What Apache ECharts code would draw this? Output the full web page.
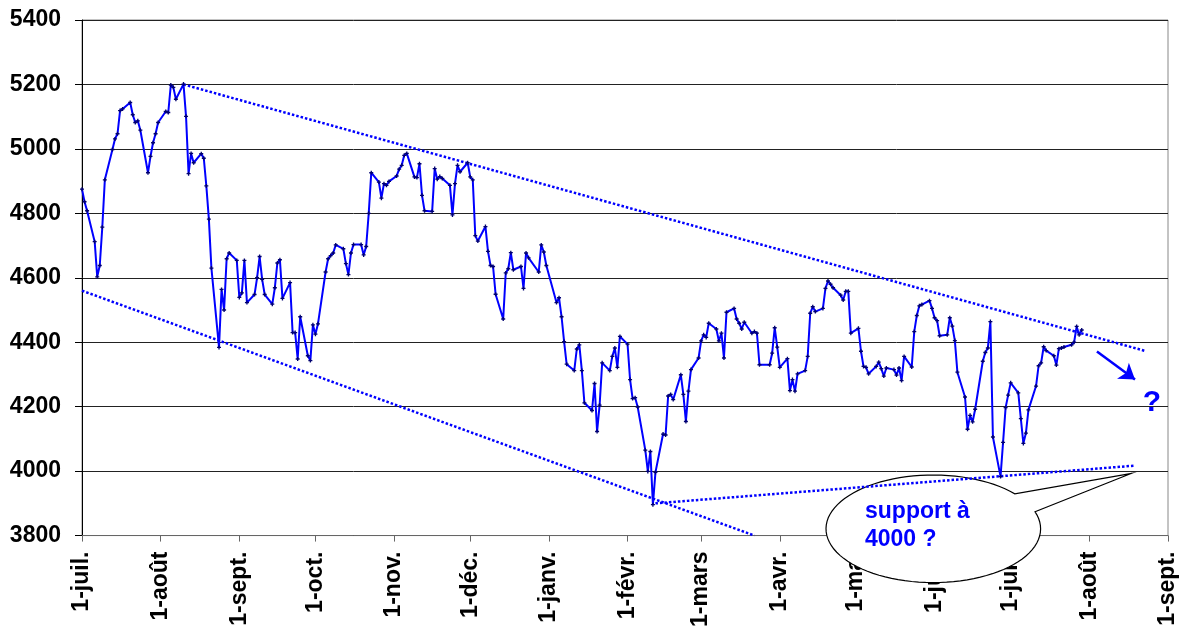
<!DOCTYPE html>
<html>
<head>
<meta charset="utf-8">
<script src="https://cdn.jsdelivr.net/npm/echarts@6/dist/echarts.min.js"></script>
<style>
  html, body { margin: 0; padding: 0; background: #fff; }
  #chart { width: 1184px; height: 630px; }
</style>
</head>
<body>
<div id="chart"></div>
<script>
// axis runs day by day from 1 July 2015 to 1 Sept 2016
const firstDay = '2015-07-01'
const lastDay = '2016-09-01'
const moisFr = ['janv.', 'févr.', 'mars', 'avr.', 'mai', 'juin', 'juil.', 'août', 'sept.', 'oct.', 'nov.', 'déc.']
const yTicks = {min: 3800, max: 5400, step: 200}

// trading days and closing values
const tradeDates = [
    '2015-07-01', '2015-07-02', '2015-07-03', '2015-07-06', '2015-07-07', '2015-07-08', '2015-07-09', '2015-07-10',
    '2015-07-13', '2015-07-14', '2015-07-15', '2015-07-16', '2015-07-17', '2015-07-20', '2015-07-21', '2015-07-22',
    '2015-07-23', '2015-07-24', '2015-07-27', '2015-07-28', '2015-07-29', '2015-07-30', '2015-07-31',
    '2015-08-03', '2015-08-04', '2015-08-05', '2015-08-06', '2015-08-07', '2015-08-10', '2015-08-11', '2015-08-12',
    '2015-08-13', '2015-08-14', '2015-08-17', '2015-08-18', '2015-08-19', '2015-08-20', '2015-08-21', '2015-08-24',
    '2015-08-25', '2015-08-26', '2015-08-27', '2015-08-28', '2015-08-31',
    '2015-09-01', '2015-09-02', '2015-09-03', '2015-09-04', '2015-09-07', '2015-09-08', '2015-09-09', '2015-09-10',
    '2015-09-11', '2015-09-14', '2015-09-15', '2015-09-16', '2015-09-17', '2015-09-18', '2015-09-21', '2015-09-22',
    '2015-09-23', '2015-09-24', '2015-09-25', '2015-09-28', '2015-09-29', '2015-09-30',
    '2015-10-01', '2015-10-02', '2015-10-05', '2015-10-06', '2015-10-07', '2015-10-08', '2015-10-09', '2015-10-12',
    '2015-10-13', '2015-10-14', '2015-10-15', '2015-10-16', '2015-10-19', '2015-10-20', '2015-10-21', '2015-10-22',
    '2015-10-23', '2015-10-26', '2015-10-27', '2015-10-28', '2015-10-29', '2015-10-30',
    '2015-11-02', '2015-11-03', '2015-11-04', '2015-11-05', '2015-11-06', '2015-11-09', '2015-11-10', '2015-11-11',
    '2015-11-12', '2015-11-13', '2015-11-16', '2015-11-17', '2015-11-18', '2015-11-19', '2015-11-20', '2015-11-23',
    '2015-11-24', '2015-11-25', '2015-11-26', '2015-11-27', '2015-11-30',
    '2015-12-01', '2015-12-02', '2015-12-03', '2015-12-04', '2015-12-07', '2015-12-08', '2015-12-09', '2015-12-10',
    '2015-12-11', '2015-12-14', '2015-12-15', '2015-12-16', '2015-12-17', '2015-12-18', '2015-12-21', '2015-12-22',
    '2015-12-23', '2015-12-24', '2015-12-28', '2015-12-29', '2015-12-30', '2015-12-31',
    '2016-01-04', '2016-01-05', '2016-01-06', '2016-01-07', '2016-01-08', '2016-01-11', '2016-01-12', '2016-01-13',
    '2016-01-14', '2016-01-15', '2016-01-18', '2016-01-19', '2016-01-20', '2016-01-21', '2016-01-22', '2016-01-25',
    '2016-01-26', '2016-01-27', '2016-01-28', '2016-01-29',
    '2016-02-01', '2016-02-02', '2016-02-03', '2016-02-04', '2016-02-05', '2016-02-08', '2016-02-09', '2016-02-10',
    '2016-02-11', '2016-02-12', '2016-02-15', '2016-02-16', '2016-02-17', '2016-02-18', '2016-02-19', '2016-02-22',
    '2016-02-23', '2016-02-24', '2016-02-25', '2016-02-26', '2016-02-29',
    '2016-03-01', '2016-03-02', '2016-03-03', '2016-03-04', '2016-03-07', '2016-03-08', '2016-03-09', '2016-03-10',
    '2016-03-11', '2016-03-14', '2016-03-15', '2016-03-16', '2016-03-17', '2016-03-18', '2016-03-21', '2016-03-22',
    '2016-03-23', '2016-03-24', '2016-03-28', '2016-03-29', '2016-03-30', '2016-03-31',
    '2016-04-01', '2016-04-04', '2016-04-05', '2016-04-06', '2016-04-07', '2016-04-08', '2016-04-11', '2016-04-12',
    '2016-04-13', '2016-04-14', '2016-04-15', '2016-04-18', '2016-04-19', '2016-04-20', '2016-04-21', '2016-04-22',
    '2016-04-25', '2016-04-26', '2016-04-27', '2016-04-28', '2016-04-29',
    '2016-05-02', '2016-05-03', '2016-05-04', '2016-05-05', '2016-05-06', '2016-05-09', '2016-05-10', '2016-05-11',
    '2016-05-12', '2016-05-13', '2016-05-16', '2016-05-17', '2016-05-18', '2016-05-19', '2016-05-20', '2016-05-23',
    '2016-05-24', '2016-05-25', '2016-05-26', '2016-05-27', '2016-05-30', '2016-05-31',
    '2016-06-01', '2016-06-02', '2016-06-03', '2016-06-06', '2016-06-07', '2016-06-08', '2016-06-09', '2016-06-10',
    '2016-06-13', '2016-06-14', '2016-06-15', '2016-06-16', '2016-06-17', '2016-06-20', '2016-06-21', '2016-06-22',
    '2016-06-23', '2016-06-24', '2016-06-27', '2016-06-28', '2016-06-29', '2016-06-30',
    '2016-07-01', '2016-07-04', '2016-07-05', '2016-07-06', '2016-07-07', '2016-07-08', '2016-07-11', '2016-07-12',
    '2016-07-13', '2016-07-14', '2016-07-15', '2016-07-18', '2016-07-19', '2016-07-20', '2016-07-21', '2016-07-22',
    '2016-07-25', '2016-07-26', '2016-07-27', '2016-07-28', '2016-07-29'
]

const closes = [
    4875, 4836, 4808, 4712, 4603, 4638, 4757, 4904,
    4998, 5031, 5047, 5119, 5124, 5144, 5106, 5082,
    5087, 5058, 4926, 4977, 5019, 5047, 5082,
    5116, 5113, 5198, 5191, 5154, 5201, 5101, 4923,
    4986, 4957, 4985, 4971, 4885, 4782, 4630, 4384,
    4564, 4500, 4659, 4677, 4654,
    4539, 4553, 4654, 4523, 4548, 4600, 4666, 4595,
    4548, 4518, 4569, 4646, 4656, 4536, 4585, 4430,
    4430, 4348, 4479, 4358, 4343, 4454,
    4425, 4457, 4618, 4659, 4669, 4677, 4702, 4690,
    4644, 4610, 4677, 4703, 4703, 4671, 4697, 4800,
    4926, 4897, 4847, 4892, 4887, 4899,
    4916, 4937, 4949, 4980, 4986, 4913, 4911, 4954,
    4856, 4808, 4806, 4939, 4906, 4914, 4908, 4887,
    4795, 4892, 4949, 4929, 4957,
    4913, 4904, 4731, 4714, 4759, 4682, 4638, 4635,
    4549, 4472, 4615, 4628, 4678, 4625, 4635, 4567,
    4677, 4662, 4618, 4702, 4680, 4638,
    4523, 4538, 4479, 4402, 4332, 4312, 4379, 4392,
    4312, 4212, 4188, 4272, 4123, 4205, 4336, 4312,
    4356, 4382, 4322, 4418,
    4394, 4284, 4225, 4228, 4199, 4065, 3999, 4061,
    3896, 3996, 4115, 4112, 4233, 4238, 4222, 4299,
    4238, 4154, 4248, 4315, 4351,
    4404, 4423, 4415, 4459, 4441, 4404, 4428, 4351,
    4493, 4505, 4472, 4459, 4441, 4462, 4428, 4433,
    4428, 4330, 4330, 4366, 4445, 4385,
    4322, 4349, 4250, 4284, 4248, 4302, 4312, 4356,
    4490, 4510, 4495, 4505, 4567, 4590, 4580, 4569,
    4546, 4531, 4558, 4558, 4428,
    4443, 4372, 4325, 4322, 4302, 4325, 4338, 4318,
    4295, 4320, 4315, 4298, 4320, 4281, 4356, 4323,
    4433, 4483, 4513, 4517, 4529, 4505,
    4476, 4467, 4420, 4423, 4476, 4450, 4405, 4307,
    4230, 4130, 4173, 4153, 4192, 4341, 4368, 4382,
    4464, 4106, 3983, 4089, 4197, 4236,
    4274, 4243, 4163, 4086, 4118, 4190, 4264, 4327,
    4336, 4386, 4374, 4358, 4329, 4380, 4382, 4385,
    4392, 4400, 4449, 4423, 4438
]

// hand-drawn trend lines: [date, value] end points
const resistanceLine = [['2015-08-10', 5200], ['2016-08-23', 4373]]
const lowerChannel = [['2015-07-01', 4560], ['2016-03-22', 3800]]
const supportLine = [['2016-02-12', 3900], ['2016-08-19', 4017]]
const arrowLine = [['2016-08-04', 4371], ['2016-08-19', 4284]]

const blue = '#0000FF'
const fontFam = '"Liberation Sans", Arial, sans-serif'

const buildDays = () => {
    const days = []
    const d = new Date(firstDay + 'T00:00:00Z')
    const end = new Date(lastDay + 'T00:00:00Z')
    while (d <= end) {
        days.push(d.toISOString().slice(0, 10))
        d.setUTCDate(d.getUTCDate() + 1)
    }
    return days
}

const isMonthStart = (index, value) => value.slice(8) === '01'

// speech bubble outline: ellipse with a pointed tail
const bubblePoints = () => {
    const cx = 933.3, cy = 528.8, rx = 107.3, ry = 53.8
    const a0 = Math.atan2(-17.1 / ry, 101.7 / rx)
    const a1 = Math.atan2(-34.8 / ry, 81 / rx) + Math.PI * 2
    const pts = [[1131.7, 473.3]]
    const n = 90
    for (let i = 0; i <= n; i++) {
        const a = a0 + (a1 - a0) * i / n
        pts.push([cx + rx * Math.cos(a), cy + ry * Math.sin(a)])
    }
    return pts
}

const trendSeries = (data) => {
    return {
        type: 'line',
        data: data,
        symbol: 'none',
        silent: true,
        z: 3,
        lineStyle: {color: blue, width: 2.5, type: [2.5, 2]}
    }
}

const getOption = () => {
    const days = buildDays()
    return {
        animation: false,
        grid: {
            left: 82, right: 16, top: 20, bottom: 91,
            show: true, borderColor: '#888', borderWidth: 1
        },
        xAxis: {
            type: 'category',
            data: days,
            boundaryGap: false,
            axisLine: {lineStyle: {color: '#666', width: 1}},
            axisTick: {interval: isMonthStart, length: 6, lineStyle: {color: '#666'}},
            splitLine: {show: false},
            axisLabel: {
                interval: isMonthStart,
                rotate: 90,
                margin: 16,
                color: '#000',
                fontSize: 23,
                fontWeight: 'bold',
                fontFamily: fontFam,
                formatter: (value) => '1-' + moisFr[Number(value.slice(5, 7)) - 1]
            }
        },
        yAxis: {
            type: 'value',
            min: yTicks.min,
            max: yTicks.max,
            interval: yTicks.step,
            axisLine: {show: true, lineStyle: {color: '#000'}},
            axisTick: {show: true, length: 7, lineStyle: {color: '#000'}},
            splitLine: {lineStyle: {color: '#222', width: 1}},
            axisLabel: {
                margin: 21,
                color: '#000',
                fontSize: 23,
                fontWeight: 'bold',
                fontFamily: fontFam,
                formatter: (v) => String(v)
            }
        },
        series: [
            trendSeries(resistanceLine),
            trendSeries(lowerChannel),
            trendSeries(supportLine),
            {
                type: 'line',
                data: tradeDates.map((d, i) => [d, closes[i]]),
                symbol: 'path://M1,0H2V1H3V2H2V3H1V2H0V1H1Z',
                symbolSize: 4,
                showSymbol: true,
                showAllSymbol: true,
                z: 4,
                lineStyle: {color: blue, width: 2},
                itemStyle: {color: '#000070'},
                markLine: {
                    silent: true,
                    symbol: ['none', 'arrow'],
                    symbolSize: 15,
                    label: {show: false},
                    lineStyle: {color: blue, width: 2.5, type: 'solid'},
                    data: [[{coord: arrowLine[0]}, {coord: arrowLine[1]}]]
                }
            }
        ],
        graphic: [
            {
                type: 'polygon',
                z: 1,
                shape: {points: bubblePoints()},
                style: {fill: '#fff', stroke: '#000', lineWidth: 1.2}
            },
            {
                type: 'text',
                z: 1,
                style: {
                    x: 865, y: 498,
                    text: 'support à\n4000 ?',
                    fill: blue,
                    font: 'bold 23px ' + fontFam,
                    lineHeight: 28,
                    verticalAlign: 'top'
                }
            },
            {
                type: 'text',
                z: 5,
                style: {
                    x: 1152, y: 403,
                    text: '?',
                    fill: blue,
                    font: 'bold 30px ' + fontFam,
                    align: 'center',
                    verticalAlign: 'middle'
                }
            }
        ]
    }
}

const chart = echarts.init(document.getElementById('chart'), null, {renderer: 'canvas'})
chart.setOption(getOption())
</script>
</body>
</html>
